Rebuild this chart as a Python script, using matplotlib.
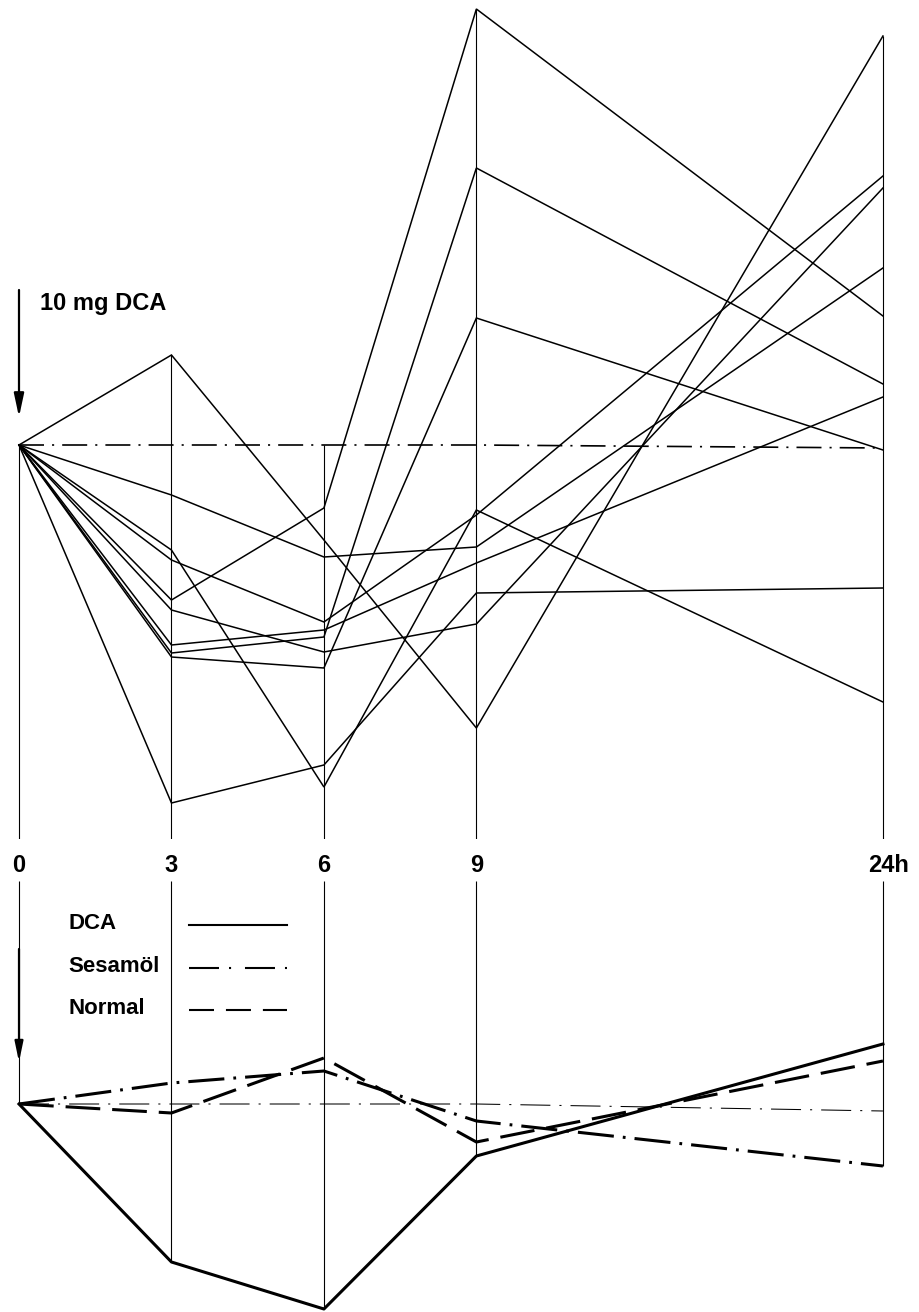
import numpy as np
import matplotlib
matplotlib.use('Agg')
import matplotlib.pyplot as plt

plt.rcParams['font.family'] = ['Liberation Sans', 'DejaVu Sans']
plt.rcParams['lines.scale_dashes'] = False

# time points; 24h is drawn on a compressed axis
hours = ['0', '3', '6', '9', '24h']
x_pos = [0, 3, 6, 9, 17]

# single animals after 10 mg DCA (change from starting value, arbitrary units)
dca_1 = [0, 18, -19, -56.6, 81.8]
dca_2 = [0, -10, -22.4, -20.4, 35.4]
dca_3 = [0, -31, -12.6, 87.2, 25.8]
dca_4 = [0, -71.6, -64, -29.6, -28.6]
dca_5 = [0, -21, -68.4, -13, -51.4]
dca_6 = [0, -23, -35.4, -14, 53.8]
dca_7 = [0, -33, -41.4, -35.8, 51.4]
dca_8 = [0, -40, -37, -23.6, 9.6]
dca_9 = [0, -41.6, -38.4, 55.4, 12.2]
dca_10 = [0, -42.4, -44.6, 25.4, -1]
singles = [dca_1, dca_2, dca_3, dca_4, dca_5, dca_6, dca_7, dca_8, dca_9, dca_10]
base_top = [0, 0, 0, 0, -0.6]

# group means (bottom panel)
mean_dca = [0, -31.6, -41, -10.4, 12]
mean_sesam = [0, 4.2, 6.6, -3.4, -12.4]
mean_normal = [0, -1.8, 9.2, -7.6, 8.6]
base_bottom = [0, 0, 0, 0, -1.4]

W, H = 919, 1312
fig = plt.figure(figsize=(W / 100, H / 100), dpi=100)
xlim = (-19 / 50.82, (W - 19) / 50.82)

# ---- top panel: single curves
ax = fig.add_axes([0, (H - 839) / H, 1, 839 / H])
ax.set_xlim(xlim)
ax.set_ylim(-78.8, 89)
ax.axis('off')

tops = np.maximum(np.max(singles, axis=0), 0)
ax.vlines(x_pos, -78.8, tops, color='k', lw=0.8)
for s in singles:
    ax.plot(x_pos, s, color='k', lw=1.1, solid_joinstyle='miter')
ax.plot(x_pos, base_top, color='k', lw=1.2, dashes=(18, 5.8, 1.5, 5.8))

ax.annotate('', xy=(0, 5.6), xytext=(0, 31),
            arrowprops=dict(arrowstyle='-|>,head_length=1.4,head_width=0.3',
                            color='k', lw=1.6, shrinkA=0, shrinkB=0,
                            mutation_scale=10))
ax.annotate('10 mg DCA', xy=(0, 31), xytext=(15, -9.5), textcoords='offset points',
            fontsize=17, fontweight='bold', va='center', ha='left')

for xp, lab in zip(x_pos, hours):
    ax.annotate(lab, xy=(xp, -78.8), xytext=(4 if lab == '24h' else 0, -11),
                textcoords='offset points', ha='center', va='top',
                fontsize=17, fontweight='bold')

# ---- bottom panel: means
bx = fig.add_axes([0, 0, 1, (H - 881) / H])
bx.set_xlim(xlim)
bx.set_ylim(-41.6, 44.6)
bx.axis('off')

lows = np.minimum(np.min([mean_dca, mean_sesam, mean_normal], axis=0), 0)
bx.vlines(x_pos, lows, 44.6, color='k', lw=0.8)
bx.plot(x_pos, base_bottom, color='k', lw=0.75, dashes=(21.6, 6.5, 1.5, 6.5))
bx.plot(x_pos, mean_dca, color='k', lw=2.2, clip_on=False)
bx.plot(x_pos, mean_sesam, color='k', lw=2.2, dashes=(26, 6.5, 2, 6.5))
bx.plot(x_pos, mean_normal, color='k', lw=2.2, dashes=(25, 8.6))

bx.annotate('', xy=(0, 8.4), xytext=(0, 31),
            arrowprops=dict(arrowstyle='-|>,head_length=1.2,head_width=0.25',
                            color='k', lw=1.6, shrinkA=0, shrinkB=0,
                            mutation_scale=10))

# legend: name on the left, line sample on the right
legend_rows = [('DCA', None, 0.902), ('Sesamöl', (21.6, 7.2, 1.5, 10), 0.802),
               ('Normal', (18, 8.6), 0.705)]
for name, dash, yf in legend_rows:
    bx.text(0.074, yf, name, transform=bx.transAxes, fontsize=16,
            fontweight='bold', va='center', ha='left')
    kw = {} if dash is None else {'dashes': dash}
    bx.plot([0.206, 0.312], [yf - 0.004, yf - 0.004], transform=bx.transAxes,
            color='k', lw=1.5, **kw)

fig.savefig('out.png', dpi=100)
